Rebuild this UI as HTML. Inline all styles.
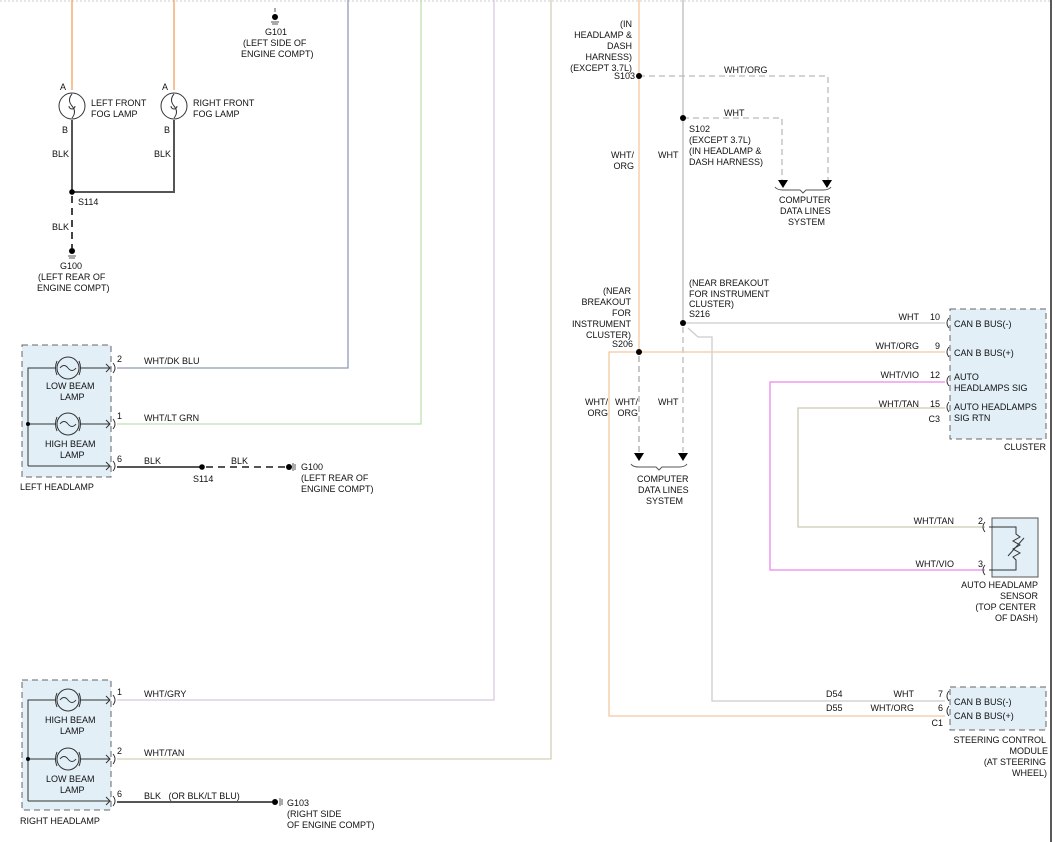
<!DOCTYPE html>
<html><head><meta charset="utf-8"><style>
html,body{margin:0;padding:0;background:#fff}
svg{display:block}
text{font-family:"Liberation Sans",sans-serif;font-size:9px;fill:#111}
</style></head><body>
<svg width="1056" height="842" viewBox="0 0 1056 842" xmlns="http://www.w3.org/2000/svg">
<line x1="0" y1="1" x2="1050" y2="1" stroke="#ccc" stroke-dasharray="2,2"/>
<line x1="1051" y1="0" x2="1051" y2="842" stroke="#222" stroke-width="1.5"/>

<!-- Fog lamp section -->
<line x1="72" y1="0" x2="72" y2="90" stroke="#f5a05a" stroke-width="1.3"/>
<line x1="174" y1="0" x2="174" y2="90" stroke="#f5a05a" stroke-width="1.3"/>
<g fill="none" stroke="#333" stroke-width="1">
<circle cx="72" cy="106" r="13"/><circle cx="174" cy="106" r="13"/>
<path d="M72 94 q-5 6 0 12 q5 6 0 12 M69 106 a3 3 0 1 0 6 0"/>
<path d="M174 94 q-5 6 0 12 q5 6 0 12 M171 106 a3 3 0 1 0 6 0"/>
</g>
<text x="60" y="90">A</text><text x="162" y="90">A</text>
<text x="62" y="133">B</text><text x="164" y="133">B</text>
<text x="91" y="106">LEFT FRONT</text><text x="91" y="117">FOG LAMP</text>
<text x="193" y="106">RIGHT FRONT</text><text x="193" y="117">FOG LAMP</text>
<path d="M72 120 V192 H174 V120" fill="none" stroke="#555" stroke-width="2"/>
<text x="52" y="157">BLK</text><text x="154" y="157">BLK</text>
<circle cx="72" cy="192" r="2.8" fill="#000"/>
<text x="78" y="205">S114</text>
<line x1="72" y1="196" x2="72" y2="248" stroke="#444" stroke-width="2" stroke-dasharray="7,5"/>
<text x="52" y="230">BLK</text>
<circle cx="72" cy="251" r="3" fill="#000"/>
<line x1="68" y1="256" x2="76" y2="256" stroke="#555"/><line x1="69" y1="258" x2="75" y2="258" stroke="#555"/>
<text x="60" y="269">G100</text><text x="38" y="280">(LEFT REAR OF</text><text x="37" y="291">ENGINE COMPT)</text>
<line x1="275" y1="8" x2="275" y2="12" stroke="#555"/>
<circle cx="275" cy="17" r="3" fill="#000"/>
<line x1="271" y1="22" x2="279" y2="22" stroke="#555"/><line x1="272" y1="24" x2="278" y2="24" stroke="#555"/>
<text x="265" y="35">G101</text><text x="243" y="46">(LEFT SIDE OF</text><text x="241" y="57">ENGINE COMPT)</text>

<!-- long vertical wires -->
<path d="M348 0 V368 H117" fill="none" stroke="#8e9ab8" stroke-width="1.3"/>
<path d="M421 0 V424 H117" fill="none" stroke="#bfe0b0" stroke-width="1.3"/>
<path d="M494 0 V700 H117" fill="none" stroke="#d8c8e0" stroke-width="1.3"/>
<path d="M551 0 V759 H117" fill="none" stroke="#d6d0b8" stroke-width="1.3"/>

<!-- Left headlamp -->
<rect x="22" y="345" width="89" height="132" fill="#e2eff7" stroke="#666" stroke-dasharray="6,4"/>
<g fill="none" stroke="#333" stroke-width="1">
<path d="M28 466 V368 H56 M80 368 H110 M28 424 H56 M80 424 H110 M28 466 H110"/>
<circle cx="68" cy="368" r="11"/><circle cx="68" cy="424" r="11"/>
<path d="M60 368 q4 -5 8 0 q4 5 8 0 M60 424 q4 -5 8 0 q4 5 8 0"/>
<path d="M57 361 q-3 7 0 14 M79 361 q3 7 0 14 M57 417 q-3 7 0 14 M79 417 q3 7 0 14"/>
<path d="M106 364 l4 4 l-4 4 M106 420 l4 4 l-4 4 M106 462 l4 4 l-4 4"/>
<path d="M113 363 q4 5 0 10 M113 419 q4 5 0 10 M113 461 q4 5 0 10"/>
</g>
<circle cx="28" cy="424" r="2" fill="#000"/>
<text x="46" y="389">LOW BEAM</text><text x="60" y="400">LAMP</text>
<text x="45" y="447">HIGH BEAM</text><text x="60" y="458">LAMP</text>
<text x="117" y="362">2</text><text x="117" y="419">1</text><text x="117" y="462">6</text>
<text x="144" y="364">WHT/DK BLU</text><text x="144" y="421">WHT/LT GRN</text><text x="144" y="464">BLK</text>
<text x="20" y="490">LEFT HEADLAMP</text>
<line x1="117" y1="467" x2="202" y2="467" stroke="#555" stroke-width="2"/>
<circle cx="202" cy="467" r="2.8" fill="#000"/>
<line x1="206" y1="467" x2="286" y2="467" stroke="#555" stroke-width="2" stroke-dasharray="7,5"/>
<circle cx="289" cy="467" r="3" fill="#000"/>
<line x1="293" y1="463" x2="293" y2="471" stroke="#555"/><line x1="295" y1="464" x2="295" y2="470" stroke="#555"/>
<text x="193" y="482">S114</text><text x="231" y="464">BLK</text>
<text x="301" y="470">G100</text><text x="301" y="481">(LEFT REAR OF</text><text x="301" y="492">ENGINE COMPT)</text>

<!-- Right headlamp -->
<rect x="22" y="680" width="89" height="130" fill="#e2eff7" stroke="#666" stroke-dasharray="6,4"/>
<g fill="none" stroke="#333" stroke-width="1">
<path d="M28 801 V700 H56 M80 700 H110 M28 759 H56 M80 759 H110 M28 801 H110"/>
<circle cx="68" cy="700" r="11"/><circle cx="68" cy="759" r="11"/>
<path d="M60 700 q4 -5 8 0 q4 5 8 0 M60 759 q4 -5 8 0 q4 5 8 0"/>
<path d="M57 693 q-3 7 0 14 M79 693 q3 7 0 14 M57 752 q-3 7 0 14 M79 752 q3 7 0 14"/>
<path d="M106 696 l4 4 l-4 4 M106 755 l4 4 l-4 4 M106 797 l4 4 l-4 4"/>
<path d="M113 695 q4 5 0 10 M113 754 q4 5 0 10 M113 796 q4 5 0 10"/>
</g>
<circle cx="28" cy="759" r="2" fill="#000"/>
<text x="45" y="723">HIGH BEAM</text><text x="60" y="734">LAMP</text>
<text x="46" y="782">LOW BEAM</text><text x="60" y="793">LAMP</text>
<text x="117" y="695">1</text><text x="117" y="754">2</text><text x="117" y="797">6</text>
<text x="144" y="697">WHT/GRY</text><text x="144" y="756">WHT/TAN</text><text x="144" y="799">BLK&#160;&#160;&#160;(OR BLK/LT BLU)</text>
<text x="20" y="824">RIGHT HEADLAMP</text>
<line x1="117" y1="802" x2="272" y2="802" stroke="#555" stroke-width="2"/>
<circle cx="275" cy="802" r="3" fill="#000"/>
<line x1="280" y1="798" x2="280" y2="806" stroke="#555"/><line x1="282" y1="799" x2="282" y2="805" stroke="#555"/>
<text x="287" y="806">G103</text><text x="287" y="817">(RIGHT SIDE</text><text x="287" y="828">OF ENGINE COMPT)</text>

<!-- Right section wires -->
<line x1="639" y1="0" x2="639" y2="352" stroke="#f5c8a0" stroke-width="1.3"/>
<line x1="639" y1="356" x2="639" y2="452" stroke="#aaa" stroke-width="1.3" stroke-dasharray="6,4"/>
<line x1="683" y1="0" x2="683" y2="323" stroke="#bbb" stroke-width="1.3"/>
<line x1="683" y1="327" x2="683" y2="452" stroke="#bbb" stroke-width="1.3" stroke-dasharray="6,4"/>
<path d="M639 76 H828 V180" fill="none" stroke="#bbb" stroke-width="1.3" stroke-dasharray="6,4"/>
<path d="M683 118 H782 V180" fill="none" stroke="#bbb" stroke-width="1.3" stroke-dasharray="6,4"/>
<circle cx="639" cy="76" r="3" fill="#000"/><circle cx="683" cy="118" r="3" fill="#000"/>
<path d="M778 180 h10 l-5 8z M822 180 h10 l-5 8z M634 453 h10 l-5 8z M678 453 h10 l-5 8z" fill="#000"/>
<path d="M775 187 q2 3 8 3 h17 l3 3 l3 -3 h17 q6 0 8 -3" fill="none" stroke="#555"/>
<path d="M631 464 q2 3 8 3 h17 l3 3 l3 -3 h17 q6 0 8 -3" fill="none" stroke="#555"/>
<text x="779" y="203">COMPUTER</text><text x="780" y="214">DATA LINES</text><text x="788" y="225">SYSTEM</text>
<text x="637" y="482">COMPUTER</text><text x="638" y="493">DATA LINES</text><text x="646" y="504">SYSTEM</text>
<g text-anchor="end">
<text x="632" y="27">(IN</text><text x="632" y="38">HEADLAMP &amp;</text><text x="632" y="49">DASH</text><text x="632" y="60">HARNESS)</text><text x="632" y="71">(EXCEPT 3.7L)</text><text x="635" y="79">S103</text>
<text x="634" y="158">WHT/</text><text x="634" y="169">ORG</text>
<text x="631" y="294">(NEAR</text><text x="631" y="305">BREAKOUT</text><text x="631" y="316">FOR</text><text x="631" y="327">INSTRUMENT</text><text x="631" y="338">CLUSTER)</text><text x="633" y="347">S206</text>
<text x="608" y="405">WHT/</text><text x="608" y="416">ORG</text>
<text x="638" y="405">WHT/</text><text x="638" y="416">ORG</text>
</g>
<text x="724" y="73">WHT/ORG</text><text x="724" y="116">WHT</text><text x="658" y="158">WHT</text><text x="658" y="405">WHT</text>
<text x="689" y="132">S102</text><text x="689" y="143">(EXCEPT 3.7L)</text><text x="689" y="154">(IN HEADLAMP &amp;</text><text x="689" y="165">DASH HARNESS)</text>
<text x="689" y="286">(NEAR BREAKOUT</text><text x="689" y="297">FOR INSTRUMENT</text><text x="689" y="307">CLUSTER)</text><text x="689" y="317">S216</text>

<line x1="683" y1="323" x2="945" y2="323" stroke="#ccc" stroke-width="1.3"/>
<path d="M688 328 L698 337 H712 V701 H945" fill="none" stroke="#ccc" stroke-width="1.3"/>
<path d="M945 352 H609 V716 H945" fill="none" stroke="#f5c8a0" stroke-width="1.3"/>
<circle cx="683" cy="323" r="3" fill="#000"/><circle cx="639" cy="352" r="3" fill="#000"/>
<path d="M945 382 H770 V570 H985" fill="none" stroke="#ee88ee" stroke-width="1.3"/>
<path d="M945 408 H798 V527 H985" fill="none" stroke="#cccab0" stroke-width="1.3"/>

<!-- Cluster -->
<rect x="950" y="309" width="96" height="130" fill="#e2eff7" stroke="#666" stroke-dasharray="6,4"/>
<g fill="none" stroke="#333"><path d="M949 318 q-4 5 0 10 M949 347 q-4 5 0 10 M949 376 q-4 5 0 10 M949 402 q-4 5 0 10 M985 522 q-4 5 0 10 M985 565 q-4 5 0 10 M949 691 q-4 5 0 10 M949 706 q-4 5 0 10"/></g>
<g text-anchor="end">
<text x="919" y="320">WHT</text><text x="940" y="320">10</text>
<text x="919" y="349">WHT/ORG</text><text x="940" y="349">9</text>
<text x="919" y="378">WHT/VIO</text><text x="940" y="378">12</text>
<text x="919" y="407">WHT/TAN</text><text x="940" y="407">15</text>
<text x="940" y="422">C3</text>
<text x="1046" y="450">CLUSTER</text>
<text x="954" y="524">WHT/TAN</text><text x="983" y="524">2</text>
<text x="954" y="567">WHT/VIO</text><text x="983" y="567">3</text>
<text x="1038" y="588">AUTO HEADLAMP</text><text x="1038" y="599">SENSOR</text><text x="1036" y="610">(TOP CENTER</text><text x="1038" y="621">OF DASH)</text>
<text x="914" y="697">WHT</text><text x="914" y="711">WHT/ORG</text>
<text x="943" y="697">7</text><text x="943" y="711">6</text><text x="943" y="726">C1</text>
<text x="1046" y="743">STEERING CONTROL</text><text x="1048" y="754">MODULE</text><text x="1046" y="765">(AT STEERING</text><text x="1047" y="776">WHEEL)</text>
</g>
<text x="954" y="327">CAN B BUS(-)</text><text x="954" y="356">CAN B BUS(+)</text>
<text x="954" y="380">AUTO</text><text x="954" y="391">HEADLAMPS SIG</text>
<text x="954" y="410">AUTO HEADLAMPS</text><text x="954" y="421">SIG RTN</text>
<text x="826" y="697">D54</text><text x="826" y="711">D55</text>

<!-- Sensor -->
<rect x="992" y="518" width="46" height="59" fill="#e2eff7" stroke="#555"/>
<path d="M989 527 H1016 V534 l4 3 l-7 4 l7 4 l-7 4 l7 4 l-7 4 l3 3 V570 H989" fill="none" stroke="#333"/>
<line x1="1008" y1="556" x2="1024" y2="538" stroke="#333"/>

<!-- Steering module -->
<rect x="950" y="687" width="96" height="43" fill="#e2eff7" stroke="#666" stroke-dasharray="6,4"/>
<text x="954" y="705">CAN B BUS(-)</text><text x="954" y="719">CAN B BUS(+)</text>
</svg>
</body></html>
